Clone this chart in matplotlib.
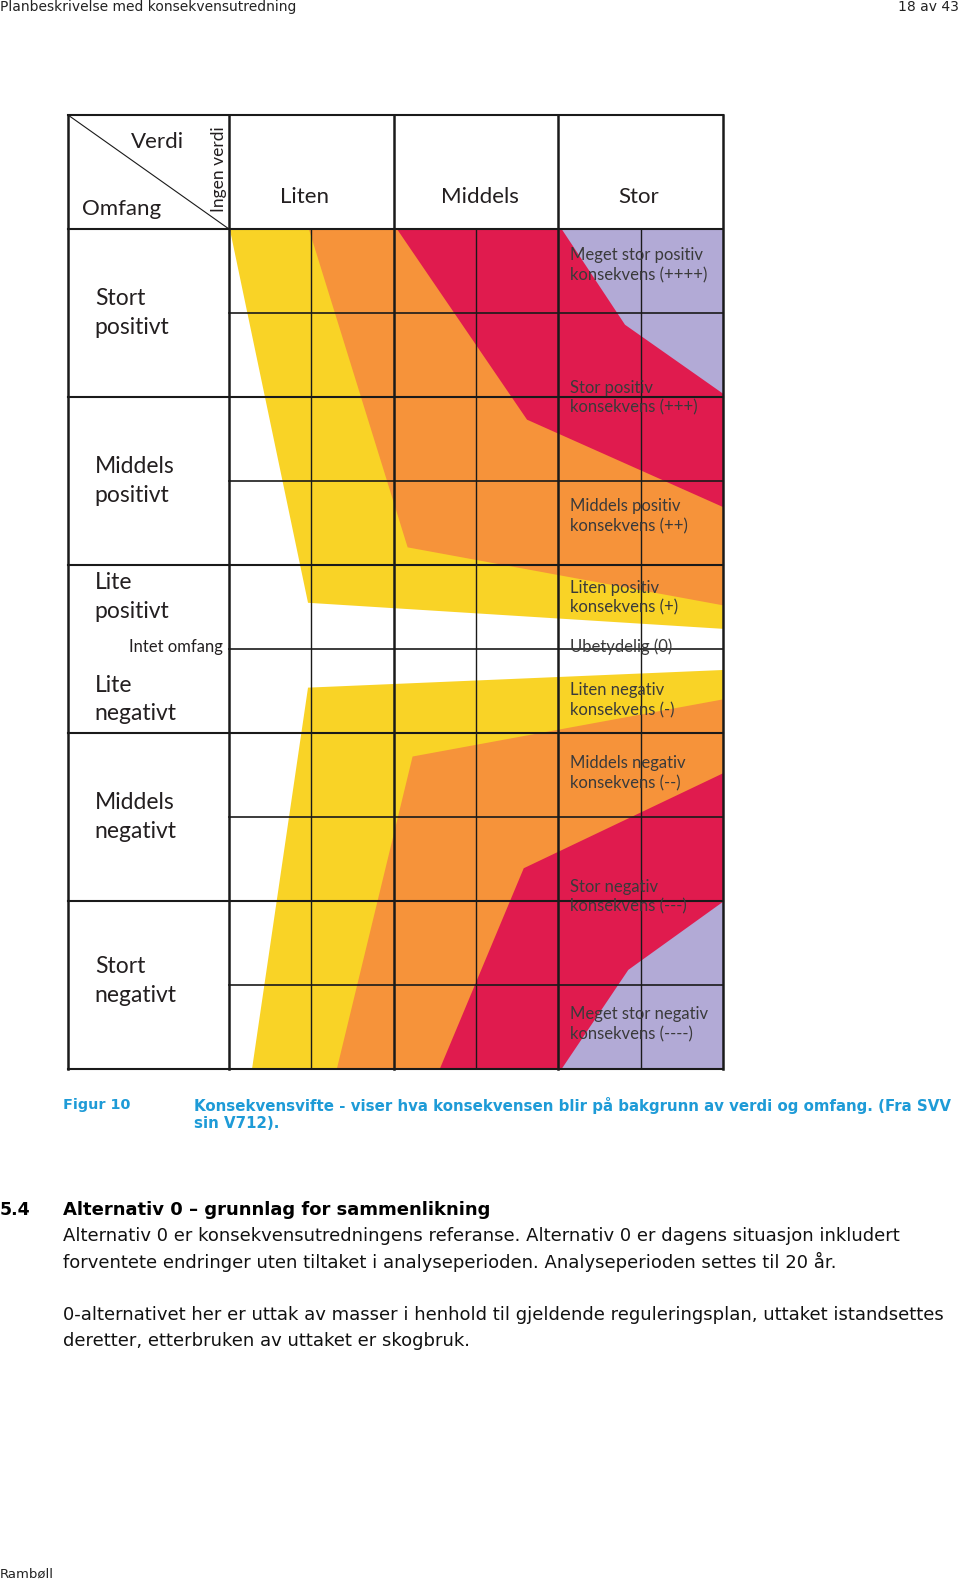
import matplotlib
matplotlib.use("Agg")
import matplotlib.pyplot as plt
from matplotlib.patches import Polygon

# Verdi-kolonner (Liten, Middels, Stor) og omfang-rader
verdi_labels = ['Liten', 'Middels', 'Stor']
verdi_center = [0.92, 3.05, 4.97]
omfang_labels = ['Stort\npositivt', 'Middels\npositivt', 'Lite\npositivt',
                 'Lite\nnegativt', 'Middels\nnegativt', 'Stort\nnegativt']
omfang_center = [4.0, 2.0, 0.62, -0.6, -2.0, -3.95]

# Konsekvens-etiketter i Stor-kolonnen
konsekvens_labels = ['Meget stor positiv\nkonsekvens (++++)',
                     'Stor positiv\nkonsekvens (+++)',
                     'Middels positiv\nkonsekvens (++)',
                     'Liten positiv\nkonsekvens (+)',
                     'Ubetydelig (0)',
                     'Liten negativ\nkonsekvens (-)',
                     'Middels negativ\nkonsekvens (--)',
                     'Stor negativ\nkonsekvens (---)',
                     'Meget stor negativ\nkonsekvens (----)']
konsekvens_y = [4.57, 2.99, 1.58, 0.61, 0.03, -0.61, -1.48, -2.95, -4.47]

# Fargefelt (x i verdi-enheter 0-6, y i omfang-enheter -5..5)
gul_pos = [(0.01, 5), (6, 5), (6, 0.24), (0.96, 0.55)]
oransje_pos = [(0.97, 5), (6, 5), (6, 0.52), (2.17, 1.21)]
rod_pos = [(2.04, 5), (6, 5), (6, 1.69), (3.62, 2.73)]
lilla_pos = [(4.04, 5), (6, 5), (6, 3.04), (4.81, 3.86)]

gul_neg = [(0.96, -0.46), (6, -0.25), (6, -5), (0.28, -5)]
oransje_neg = [(2.23, -1.28), (6, -0.60), (6, -5), (1.31, -5)]
rod_neg = [(3.58, -2.61), (6, -1.48), (6, -5), (2.56, -5)]
lilla_neg = [(4.85, -3.82), (6, -3.01), (6, -5), (4.04, -5)]

gul = '#F9D326'
oransje = '#F6933A'
rod = '#E01B4E'
lilla = '#B2AAD6'
bla = '#1E9BD7'

chart_font = ['Lato', 'DejaVu Sans']

fig = plt.figure(figsize=(9.6, 15.79), dpi=100)

# Sidetekst
fig.text(0 / 960, 1 - 7 / 1579, 'Planbeskrivelse med konsekvensutredning',
         fontsize=10, va='center', ha='left', color='#222222')
fig.text(959 / 960, 1 - 7 / 1579, '18 av 43', fontsize=10, va='center', ha='right', color='#222222')

# Konsekvensvifte
left_x = -1.955
top_y = 6.357
ax = fig.add_axes([68 / 960, 1 - 1069 / 1579, (723 - 68) / 960, (1069 - 115) / 1579])
ax.set_xlim(left_x, 6)
ax.set_ylim(-5, top_y)
ax.axis('off')

for pts, c in [(gul_pos, gul), (oransje_pos, oransje), (rod_pos, rod), (lilla_pos, lilla),
               (gul_neg, gul), (oransje_neg, oransje), (rod_neg, rod), (lilla_neg, lilla)]:
    ax.add_patch(Polygon(pts, closed=True, facecolor=c, edgecolor='none', zorder=1))

lc = '#1a1a1a'
# Horisontale linjer
for y in [top_y, 5, 3, 1, -1, -3, -5]:
    ax.plot([left_x, 6], [y, y], color=lc, lw=1.5, zorder=3, clip_on=False)
for y in [4, 2, 0, -2, -4]:
    ax.plot([0, 6], [y, y], color=lc, lw=1.2, zorder=3)
# Vertikale linjer
for x in [left_x, 0, 2, 4, 6]:
    ax.plot([x, x], [-5, top_y], color=lc, lw=1.8, zorder=3, clip_on=False)
for x in [1, 3, 5]:
    ax.plot([x, x], [-5, 5], color=lc, lw=1.0, zorder=3)
# Diagonal i hjørnet
ax.plot([left_x, 0], [top_y, 5], color=lc, lw=0.8, zorder=3)

tc = '#231f20'
ax.text(-0.87, 6.03, 'Verdi', fontsize=16, family=chart_font, ha='center', va='center', color=tc)
ax.text(-1.31, 5.24, 'Omfang', fontsize=16, family=chart_font, ha='center', va='center', color=tc)
ax.text(-0.12, 5.71, 'Ingen verdi', fontsize=12.5, family=chart_font, rotation=90,
        ha='center', va='center', color=tc)
for lab, xc in zip(verdi_labels, verdi_center):
    ax.text(xc, 5.38, lab, fontsize=16, family=chart_font, ha='center', va='center', color=tc)

for lab, yc in zip(omfang_labels, omfang_center):
    ax.text(-1.63, yc, lab, fontsize=16.5, family=chart_font, ha='left', va='center',
            color=tc, linespacing=1.45)
ax.text(-0.08, 0.02, 'Intet omfang', fontsize=12, family=chart_font, ha='right',
        va='center', color=tc)

for lab, yc in zip(konsekvens_labels, konsekvens_y):
    ax.text(4.14, yc, lab, fontsize=12, family=chart_font, ha='left', va='center',
            color='#3a3a3a', linespacing=1.3, zorder=4)

# Figurtekst
fig.text(63 / 960, 1 - 1105 / 1579, 'Figur 10', fontsize=10.4, fontweight='bold',
         color=bla, va='center', ha='left')
fig.text(194 / 960, 1 - 1105 / 1579,
         'Konsekvensvifte - viser hva konsekvensen blir på bakgrunn av verdi og omfang. (Fra SVV',
         fontsize=10.8, fontweight='bold', color=bla, va='center', ha='left')
fig.text(194 / 960, 1 - 1123 / 1579, 'sin V712).', fontsize=10.8, fontweight='bold',
         color=bla, va='center', ha='left')

# Brødtekst
fig.text(0 / 960, 1 - 1210 / 1579, '5.4', fontsize=12.5, fontweight='bold', va='center', ha='left')
fig.text(63 / 960, 1 - 1210 / 1579, 'Alternativ 0 – grunnlag for sammenlikning',
         fontsize=13, fontweight='bold', va='center', ha='left')
body = ['Alternativ 0 er konsekvensutredningens referanse. Alternativ 0 er dagens situasjon inkludert',
        'forventete endringer uten tiltaket i analyseperioden. Analyseperioden settes til 20 år.',
        '0-alternativet her er uttak av masser i henhold til gjeldende reguleringsplan, uttaket istandsettes',
        'deretter, etterbruken av uttaket er skogbruk.']
body_y = [1236, 1262, 1315, 1341]
for line, yy in zip(body, body_y):
    fig.text(63 / 960, 1 - yy / 1579, line, fontsize=13, va='center', ha='left', color='#111111')

fig.text(0 / 960, 1 - 1574 / 1579, 'Rambøll', fontsize=9.5, va='center', ha='left', color='#222222')

fig.savefig('out.png', dpi=100, facecolor='white')
